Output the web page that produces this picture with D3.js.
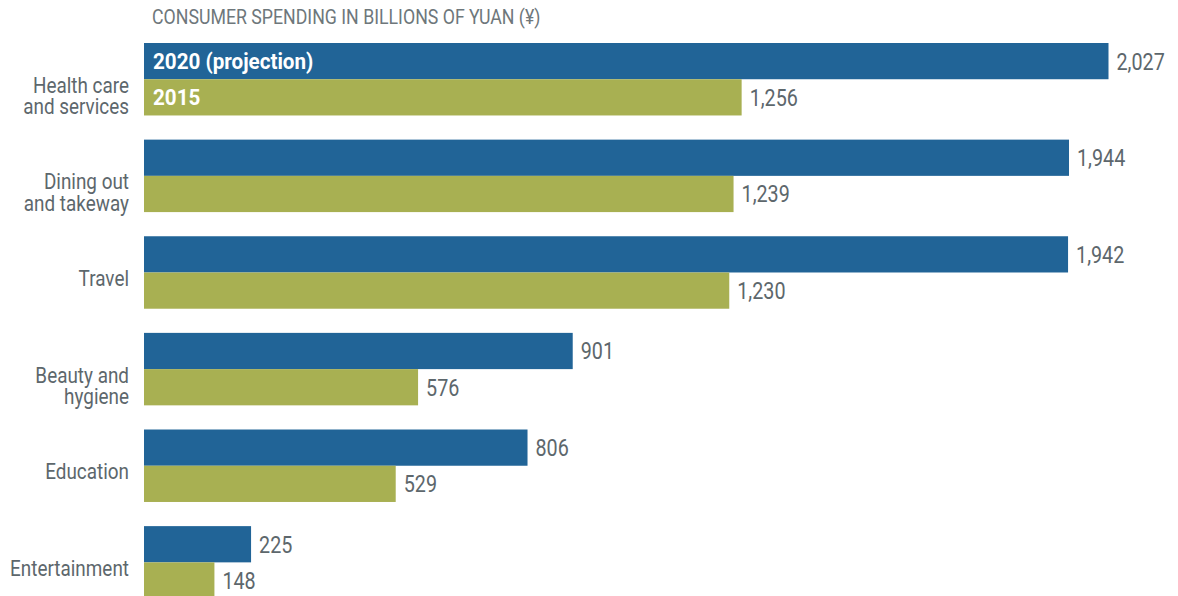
<!DOCTYPE html>
<html>
<head>
<meta charset="utf-8">
<script src="https://cdn.jsdelivr.net/npm/d3@7"></script>
<style>
  body { margin: 0; background: #fff; }
  svg text { font-family: Roboto, "Liberation Sans", sans-serif; }
</style>
</head>
<body>
<svg width="1178" height="596"></svg>
<script>
"use strict";

const categories = [
  ["Health care", "and services"],
  ["Dining out", "and takeway"],
  ["Travel"],
  ["Beauty and", "hygiene"],
  ["Education"],
  ["Entertainment"]
];
const series = ["2020 (projection)", "2015"];
const values2020 = [2027, 1944, 1942, 901, 806, 225];
const values2015 = [1256, 1239, 1230, 576, 529, 148];
const title = "CONSUMER SPENDING IN BILLIONS OF YUAN (\u00a5)";

const colors = ["#216497", "#a8b052"];
const textColor = "#5d676c";

const svg = d3.select("svg");

const keys = categories.map(d => d.join(" "));
const rows = keys.map((k, i) => ({ key: k, lines: categories[i], vals: [values2020[i], values2015[i]] }));

const x = d3.scaleLinear()
  .domain([0, 2027])
  .range([144, 1108.5]);

const y = d3.scaleBand()
  .domain(keys)
  .range([43, 598.6])
  .paddingInner(0.25);

const ySub = d3.scaleBand()
  .domain(series)
  .range([0, y.bandwidth()]);

// Roboto squeezed sideways to look like a condensed face
const place = (px, py, s) => `translate(${px}, ${py}) scale(${s}, 1)`;

svg.append("text")
  .attr("transform", place(152, 24, 0.91))
  .attr("fill", "#6e777b")
  .attr("font-size", 19.5)
  .text(title);

const g = svg.selectAll("g.row")
  .data(rows)
  .enter()
  .append("g")
  .attr("class", "row")
  .attr("transform", d => `translate(0, ${y(d.key)})`);

g.selectAll("rect")
  .data(d => d.vals.map((v, i) => ({ s: series[i], v: v, i: i })))
  .enter()
  .append("rect")
  .attr("x", x(0))
  .attr("y", d => ySub(d.s))
  .attr("width", d => x(d.v) - x(0))
  .attr("height", ySub.bandwidth())
  .attr("fill", d => colors[d.i]);

g.selectAll("text.val")
  .data(d => d.vals.map((v, i) => ({ s: series[i], v: v })))
  .enter()
  .append("text")
  .attr("class", "val")
  .attr("transform", d => place(x(d.v) + 8, ySub(d.s) + ySub.bandwidth() / 2, 0.84))
  .attr("dy", "0.36em")
  .attr("fill", textColor)
  .attr("font-size", 23.5)
  .text(d => d3.format(",")(d.v));

// category labels, right aligned
g.selectAll("text.cat")
  .data(d => d.lines)
  .enter()
  .append("text")
  .attr("class", "cat")
  .attr("transform", (d, i) => place(129, y.bandwidth() / 2 + 5.5 + i * 21.5, 0.84))
  .attr("text-anchor", "end")
  .attr("dy", "0.36em")
  .attr("fill", textColor)
  .attr("font-size", 22.5)
  .text(d => d);

// legend inside first group
const first = svg.select("g.row");
first.selectAll("text.leg")
  .data(series)
  .enter()
  .append("text")
  .attr("class", "leg")
  .attr("transform", d => place(153, ySub(d) + ySub.bandwidth() / 2, 0.96))
  .attr("dy", "0.36em")
  .attr("fill", "#fff")
  .attr("font-weight", "bold")
  .attr("font-size", 21.5)
  .text(d => d);
</script>
</body>
</html>
